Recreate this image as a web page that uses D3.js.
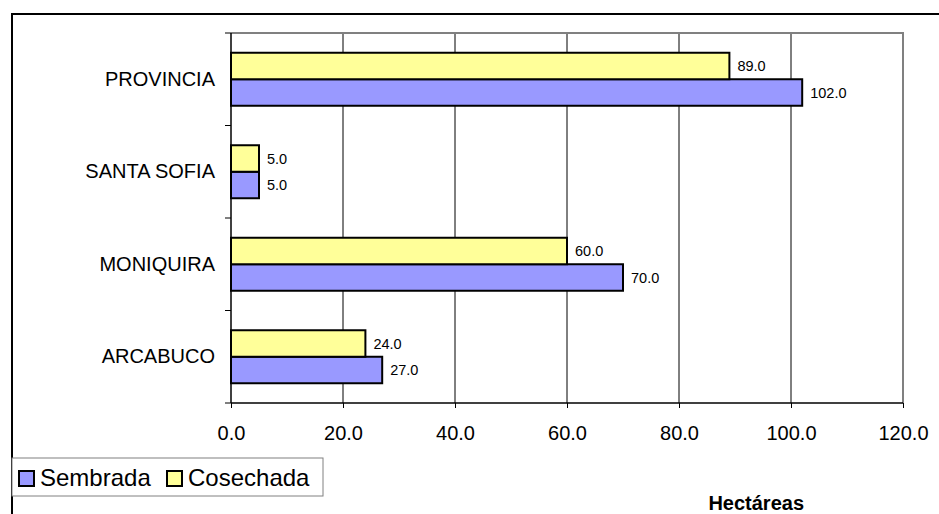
<html>
<head>
<meta charset="utf-8">
<title>Hectáreas</title>
<style>
  body { margin: 0; background: #fff; }
  text { font-family: Arial, "Liberation Sans", sans-serif; }
</style>
</head>
<body>
<script src="https://d3js.org/d3.v7.min.js"></script>
<script>
// datos
var municipios = ["PROVINCIA", "SANTA SOFIA", "MONIQUIRA", "ARCABUCO"];
var sembrada = [102, 5, 70, 27];
var cosechada = [89, 5, 60, 24];
var series = ["Sembrada", "Cosechada"];
var colores = ["#9999FF", "#FFFF99"];
var ticksX = [0, 20, 40, 60, 80, 100, 120];

var width = 939, height = 514;
var plot = {left: 231, right: 903, top: 33, bottom: 403};
var fuente = "Arial, 'Liberation Sans', sans-serif";

var svg = d3.select("body").append("svg")
    .attr("width", width).attr("height", height);

// borde exterior
svg.append("rect")
    .attr("x", 12).attr("y", 14)
    .attr("width", width).attr("height", height)
    .attr("fill", "none").attr("stroke", "#000").attr("stroke-width", 2);

var x = d3.scaleLinear().domain([0, 120]).range([plot.left, plot.right]);
var y = d3.scaleBand().domain(municipios).range([plot.top, plot.bottom]);
var ySub = d3.scaleBand().domain(["Cosechada", "Sembrada"])
    .range([y.bandwidth() / 2 - 26.5, y.bandwidth() / 2 + 26.5]);

// lineas de cuadricula
svg.append("g").selectAll("line")
    .data(ticksX.slice(1, -1))
    .enter().append("line")
    .attr("x1", function(d){ return x(d); })
    .attr("x2", function(d){ return x(d); })
    .attr("y1", plot.top).attr("y2", plot.bottom)
    .attr("stroke", "#000").attr("stroke-width", 1);

// borde superior y derecho en gris
svg.append("path")
    .attr("d", "M" + plot.left + "," + plot.top + "H" + plot.right + "V" + plot.bottom)
    .attr("fill", "none").attr("stroke", "#808080").attr("stroke-width", 2);

var filas = municipios.map(function(m, i){
    return {m: m, Sembrada: sembrada[i], Cosechada: cosechada[i]};
});

var grupos = svg.append("g").selectAll("g")
    .data(filas)
    .enter().append("g")
    .attr("transform", function(d){ return "translate(0," + y(d.m) + ")"; });

grupos.selectAll("rect")
    .data(function(d){ return series.map(function(s, i){ return {s: s, v: d[s], c: colores[i]}; }); })
    .enter().append("rect")
    .attr("x", x(0))
    .attr("y", function(d){ return ySub(d.s); })
    .attr("width", function(d){ return x(d.v) - x(0); })
    .attr("height", ySub.bandwidth())
    .attr("fill", function(d){ return d.c; })
    .attr("stroke", "#000").attr("stroke-width", 2);

grupos.selectAll("text")
    .data(function(d){ return series.map(function(s){ return {s: s, v: d[s]}; }); })
    .enter().append("text")
    .attr("x", function(d){ return x(d.v) + 8; })
    .attr("y", function(d){ return ySub(d.s) + ySub.bandwidth() / 2; })
    .attr("dy", "0.36em")
    .attr("font-size", "14.5px")
    .text(function(d){ return d.v.toFixed(1); });

// eje x
var ejeX = svg.append("g")
    .attr("transform", "translate(0," + plot.bottom + ")")
    .call(d3.axisBottom(x).tickValues(ticksX).tickSize(5).tickPadding(18)
        .tickFormat(function(d){ return d.toFixed(1); }));
ejeX.select(".domain").attr("stroke", "#000").attr("stroke-width", 1.5)
    .attr("d", "M" + plot.left + ",0H" + plot.right);
ejeX.selectAll(".tick text").attr("font-size", "20px").attr("font-family", fuente).attr("fill", "#000");
ejeX.selectAll(".tick line").attr("stroke", "#000");

// eje y
var ejeY = svg.append("g")
    .attr("transform", "translate(" + plot.left + ",0)")
    .call(d3.axisLeft(y).tickSize(0).tickPadding(16));
ejeY.select(".domain").attr("stroke", "#000").attr("stroke-width", 1.5)
    .attr("d", "M0," + plot.top + "V" + plot.bottom);
ejeY.selectAll(".tick text").attr("font-size", "20px").attr("font-family", fuente).attr("fill", "#000");
// marcas entre categorias
svg.append("g").selectAll("line")
    .data(municipios.concat(["fin"]))
    .enter().append("line")
    .attr("x1", plot.left - 6).attr("x2", plot.left)
    .attr("y1", function(d, i){ return plot.top + i * y.step(); })
    .attr("y2", function(d, i){ return plot.top + i * y.step(); })
    .attr("stroke", "#000").attr("stroke-width", 1);

// leyenda
var ley = svg.append("g");
ley.append("rect")
    .attr("x", 12).attr("y", 458).attr("width", 311).attr("height", 38)
    .attr("fill", "#fff").attr("stroke", "#808080").attr("stroke-width", 1);
var posLey = [19, 167];
series.forEach(function(s, i){
    ley.append("rect")
        .attr("x", posLey[i]).attr("y", 471).attr("width", 15).attr("height", 15)
        .attr("fill", colores[i]).attr("stroke", "#000").attr("stroke-width", 2);
    ley.append("text")
        .attr("x", posLey[i] + 21).attr("y", 486)
        .attr("font-size", "24px").text(s);
});

// titulo eje
svg.append("text")
    .attr("x", 804).attr("y", 510)
    .attr("text-anchor", "end")
    .attr("font-size", "20px").attr("font-weight", "bold")
    .text("Hectáreas");
</script>
</body>
</html>
